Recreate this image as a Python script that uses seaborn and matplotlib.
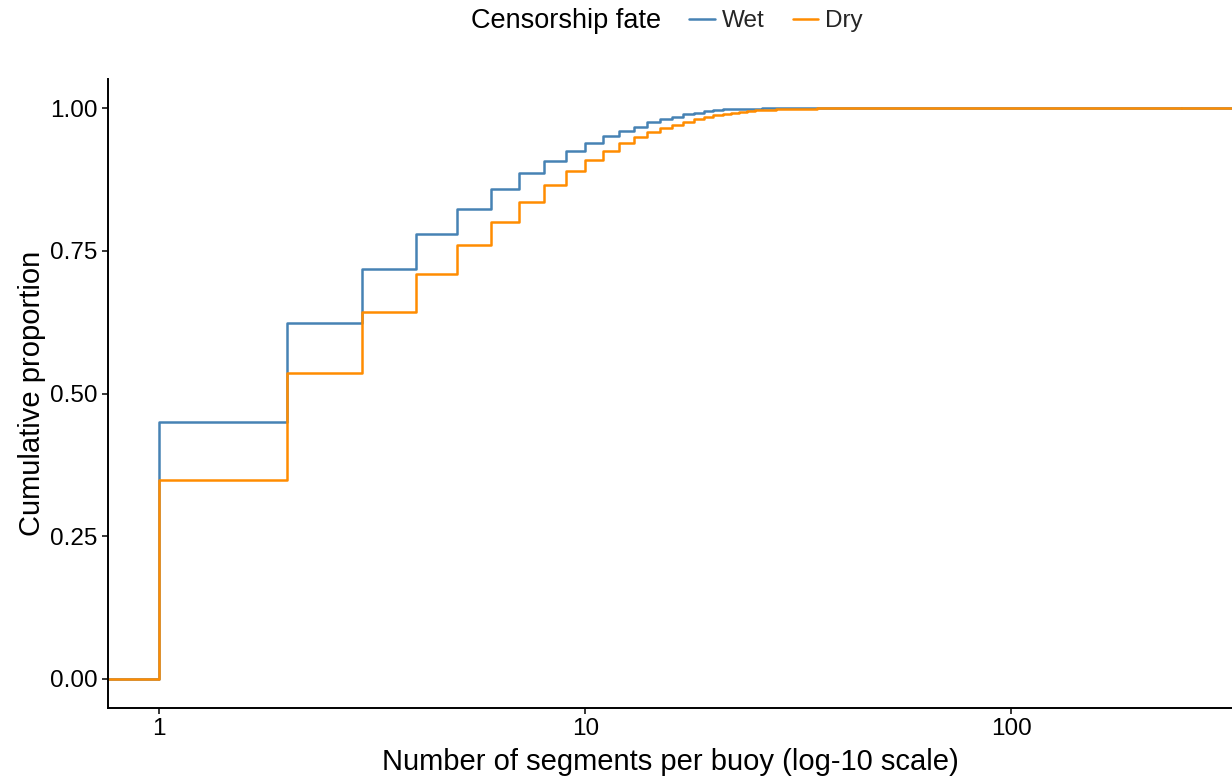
import numpy as np
import pandas as pd
import matplotlib
matplotlib.use("Agg")
import matplotlib.pyplot as plt
from matplotlib.lines import Line2D
import seaborn as sns

# Distinct segment counts observed per buoy
segments = [1, 2, 3, 4, 5, 6, 7, 8, 9, 10, 11, 12, 13, 14, 15, 16, 17, 18, 19, 20,
            21, 22, 23, 24, 25, 26, 27, 28, 29, 30, 32, 35, 40, 50, 60, 100, 250]

# Cumulative proportion of buoys at or below each segment count
wet_cum = [0.450, 0.624, 0.718, 0.779, 0.824, 0.858, 0.886, 0.908, 0.925, 0.939,
           0.951, 0.960, 0.967, 0.975, 0.980, 0.985, 0.989, 0.992, 0.995, 0.997,
           0.9978, 0.9983, 0.9987, 0.9990, 0.9992, 0.9994, 0.9995, 0.9996, 0.9997,
           0.9997, 0.9998, 0.9998, 0.9999, 0.9999, 1.000, 1.000, 1.000]
dry_cum = [0.349, 0.536, 0.642, 0.709, 0.760, 0.801, 0.835, 0.865, 0.889, 0.909,
           0.925, 0.938, 0.949, 0.958, 0.965, 0.971, 0.975, 0.980, 0.984, 0.988,
           0.990, 0.992, 0.9935, 0.9948, 0.9958, 0.9966, 0.9972, 0.9977, 0.9981,
           0.9984, 0.9989, 0.9993, 0.9996, 0.9998, 0.9999, 0.99995, 1.000]

fates = ["Wet", "Dry"]
fate_colors = {"Wet": "#4682B4", "Dry": "#FF8C00"}

y_ticks = [0.0, 0.25, 0.50, 0.75, 1.00]
x_ticks = [1, 10, 100]

# Long table: probability mass at each segment count, per fate
frames = []
for fate, cum in zip(fates, [wet_cum, dry_cum]):
    mass = np.diff(np.r_[0.0, cum])
    frames.append(pd.DataFrame({"segments": segments, "share": mass, "fate": fate}))
df = pd.concat(frames, ignore_index=True)

sns.set_theme(style="ticks")
plt.rcParams["font.family"] = ["Liberation Sans", "DejaVu Sans"]

W, H = 1232, 782
fig = plt.figure(figsize=(W / 100, H / 100), dpi=100)
ax = fig.add_axes([108 / W, (H - 707.5) / H, (W - 108) / W, (707.5 - 79.5) / H])

# ggplot-like 5% expansion of the (log) data range
lo, hi = np.log10(min(segments)), np.log10(max(segments))
pad = 0.05 * (hi - lo)
x_left, x_right = 10 ** (lo - pad), 10 ** (hi + pad)

lw = 1.8
for fate in fates:
    sub = df[df["fate"] == fate]
    col = fate_colors[fate]
    sns.ecdfplot(data=sub, x="segments", weights="share", color=col,
                 log_scale=True, linewidth=lw, ax=ax)
    # pad the step function out to both panel edges
    ax.hlines(0.0, x_left, sub["segments"].min(), color=col, linewidth=lw)
    ax.hlines(sub["share"].sum(), sub["segments"].max(), x_right, color=col,
              linewidth=lw)

ax.set_xlim(x_left, x_right)
ax.set_ylim(-0.05, 1.05)

ax.set_xticks(x_ticks)
ax.set_xticklabels([str(t) for t in x_ticks])
ax.xaxis.set_minor_locator(matplotlib.ticker.NullLocator())
ax.set_yticks(y_ticks)
ax.set_yticklabels([f"{t:.2f}" for t in y_ticks])

ax.tick_params(axis="both", labelsize=17.5, length=4, width=1.1,
               color="black", labelcolor="black", pad=3.5)
for side in ["left", "bottom"]:
    ax.spines[side].set_linewidth(1.4)
    ax.spines[side].set_color("black")
sns.despine(ax=ax)

ax.set_xlabel("Number of segments per buoy (log-10 scale)", fontsize=21,
              color="black", labelpad=6)
ax.set_ylabel("Cumulative proportion", fontsize=21, color="black")
ax.yaxis.set_label_coords(-0.055, 0.5)

# Horizontal legend above the panel, title on the left
fig.text(661 / W, 1 - 21 / H, "Censorship fate", ha="right", va="center",
         fontsize=19.5, color="black")
handles = [Line2D([0], [0], color=fate_colors[f], linewidth=lw) for f in fates]
fig.legend(handles, fates, loc="center left", bbox_to_anchor=(689 / W, 1 - 21 / H),
           ncol=2, frameon=False, fontsize=17.5, handlelength=1.05,
           handletextpad=0.3, columnspacing=1.15, borderpad=0, borderaxespad=0)

fig.savefig("out.png", dpi=100)
